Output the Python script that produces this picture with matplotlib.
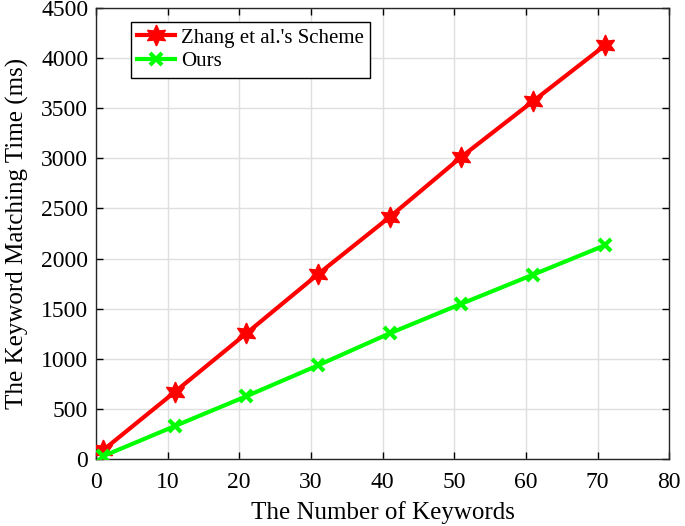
import matplotlib
matplotlib.use("Agg")
import matplotlib.pyplot as plt

keywords = [1, 11, 21, 31, 41, 51, 61, 71]
zhang = [90, 670, 1255, 1845, 2415, 3015, 3570, 4125]
ours = [30, 330, 628, 936, 1255, 1550, 1840, 2132]
series_names = ["Zhang et al.'s Scheme", "Ours"]

plt.rcParams['font.family'] = ['Liberation Serif', 'DejaVu Serif']

fig = plt.figure(figsize=(6.85, 5.26), dpi=100)
ax = fig.add_axes([0.140, 0.127, 0.837, 0.858])

ax.plot(keywords, zhang, color='#ff0000', lw=3, marker=(6, 1, 0), markersize=15,
        markeredgewidth=1, label=series_names[0], zorder=3)
ax.plot(keywords, ours, color='#00ff00', lw=3, marker='x', markersize=8,
        markeredgewidth=3, label=series_names[1], zorder=3)

ax.set_xlim(0, 80)
ax.set_ylim(0, 4500)
ax.set_xticks(range(0, 81, 10))
ax.set_yticks(range(0, 4501, 500))
ax.grid(True, color='#dfdfdf', lw=1)
ax.set_axisbelow(True)
ax.tick_params(direction='in', top=True, right=True, labelsize=17, length=5, width=1)
ax.tick_params(axis='x', pad=9)
ax.tick_params(axis='y', pad=5.5)
for s in ax.spines.values():
    s.set_linewidth(1)
    s.set_color('#262626')

ax.set_xlabel('The Number of Keywords', fontsize=18, labelpad=6)
ax.set_ylabel('The Keyword Matching Time (ms)', fontsize=18, labelpad=9)

leg = ax.legend(loc='upper left', bbox_to_anchor=(0.061, 0.969), fontsize=15,
                fancybox=False, framealpha=1, edgecolor='black',
                handlelength=1.8, borderaxespad=0, borderpad=0.3,
                handletextpad=0.3, labelspacing=0.2)
leg.get_frame().set_linewidth(1)

fig.savefig('out.png', dpi=100)
